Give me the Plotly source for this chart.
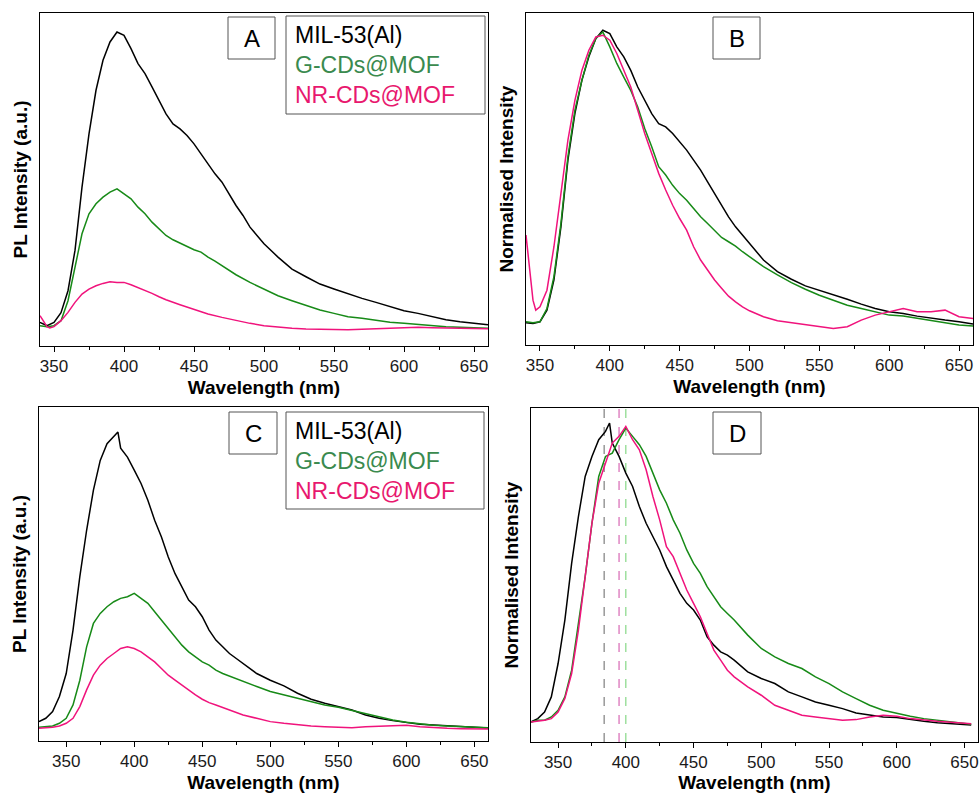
import plotly.graph_objects as go

W, H = 979, 793
FONT = "Liberation Sans, Arial, sans-serif"

# ---------------- data (wavelength nm, intensity a.u.) ----------------
wl_A_black = [340,345,350,355,360,365,370,375,380,385,390,395,400,405,410,415,420,425,430,435,440,445,450,455,460,465,470,475,480,485,490,495,500,510,520,530,540,550,560,570,580,590,600,610,620,630,640,650,660]
A_black = [7.1,6.1,7.1,10,16.6,28.7,47.7,63.7,76.8,85.8,91.3,94.3,93.3,89.3,84.8,81.8,77.8,73.7,69.7,66.7,65.2,63.2,60.7,57.7,54.7,51.7,49.2,45.7,42.2,39.2,35.7,33.2,30.7,26.7,23.1,20.8,18.6,17.1,15.6,14.3,13.1,11.8,10.6,9.8,8.8,7.9,7.3,6.8,6.4]
wl_A_green = [340,345,350,355,360,365,370,375,380,385,390,395,400,405,410,415,420,425,430,435,440,445,450,455,460,465,470,475,480,490,500,510,520,530,540,550,560,570,580,590,600,610,620,630,640,650,660]
A_green = [6.1,5.8,6.1,7.6,13.6,23.6,33.7,39.7,42.7,44.7,46.2,47.2,45.7,44.2,41.7,39.7,37.2,35.2,33.2,31.9,30.9,29.7,28.9,28.2,26.7,25.5,24.1,22.8,21.4,19.1,17.1,15.1,13.6,12.1,10.8,9.8,8.8,8.3,7.6,7.1,6.8,6.4,6.1,5.8,5.6,5.4,5.3]
wl_A_pink = [340,345,347,350,355,360,365,370,375,380,385,390,395,400,405,410,415,420,425,430,440,450,460,470,480,490,500,510,520,530,540,550,560,570,580,590,600,610,620,630,640,650,660]
A_pink = [9.1,5.8,5.4,5.8,7.6,10.1,13.1,15.6,17.1,18.1,18.8,19.3,19.1,19.1,18.4,17.6,16.8,15.8,14.8,13.9,12.4,11.1,9.6,8.6,7.6,6.8,6.1,5.6,5.3,5.1,5.0,4.9,4.9,5.0,5.2,5.4,5.5,5.6,5.5,5.4,5.4,5.3,5.2]

wl_B_black = [340,345,350,355,360,365,370,375,380,385,390,395,400,405,410,415,420,425,430,435,440,445,450,455,460,465,470,475,480,485,490,495,500,510,520,530,540,550,560,570,580,590,600,610,620,630,640,650,660]
B_black = [6.7,6.5,7.0,10.5,19.6,35.6,55.7,69.7,79.7,86.8,92.3,94.8,93.8,89.8,86.8,82.7,77.7,73.7,69.7,66.7,65.7,63.7,61.2,58.7,55.7,52.7,49.1,45.6,42.1,38.6,35.6,33.1,30.6,25.6,22.1,19.8,17.8,16.5,15.0,13.8,12.3,11.0,10.0,9.5,8.7,8.0,7.5,7.0,6.3]
wl_B_green = [340,345,350,355,360,365,370,375,380,385,390,395,400,405,410,415,420,425,430,435,440,445,450,455,460,465,470,475,480,485,490,495,500,510,520,530,540,550,560,570,580,590,600,610,620,630,640,650,660]
B_green = [7.0,6.7,7.0,11.0,20.6,36.6,56.7,70.7,79.7,87.3,92.3,94.3,89.8,84.8,80.7,76.7,71.7,65.2,59.7,53.7,51.2,48.1,45.6,43.6,41.1,38.6,36.6,34.6,32.4,31.1,29.8,28.1,26.6,23.6,21.1,18.8,16.8,15.0,13.5,12.0,11.0,10.0,9.0,8.7,8.0,7.3,6.7,6.0,5.7]
wl_B_pink = [340,343,345,347,350,355,360,365,370,375,380,385,390,395,400,405,410,415,420,425,430,435,440,445,450,455,460,465,470,475,480,485,490,495,500,510,520,530,540,550,560,570,580,590,600,610,620,630,640,650,660]
B_pink = [33.1,21.5,13.5,10.5,11.5,16.5,29.6,45.6,61.7,73.7,82.7,88.8,92.8,93.3,91.8,87.8,82.7,77.7,70.7,63.7,57.7,51.7,46.7,42.1,38.1,34.6,29.6,25.6,22.6,19.6,17.1,14.7,13.0,11.5,10.3,8.5,7.3,6.7,6.3,5.7,5.0,5.5,7.5,9.0,10.0,11.0,10.0,10.0,10.5,8.5,8.0]

wl_C_black = [330,335,340,345,350,355,360,365,370,375,380,385,388,390,395,400,405,410,415,420,425,430,435,440,445,450,455,460,465,470,475,480,490,500,510,520,530,540,550,560,570,580,590,600,610,620,630,640,650,660]
C_black = [5.8,6.8,8.8,13.3,20.2,33.2,49.2,63.1,75.1,84.0,89.0,91.0,92.5,87.7,85.0,81.1,77.1,72.1,66.1,61.1,55.1,50.1,46.2,42.2,40.2,37.2,33.2,30.2,28.2,26.2,24.7,23.2,20.2,18.2,16.5,14.3,12.5,11.3,10.3,9.3,7.8,6.8,6.1,5.5,5.0,4.8,4.5,4.3,4.1,3.9]
wl_C_green = [330,340,345,350,355,360,365,370,375,380,385,390,395,400,405,410,415,420,425,430,435,440,445,450,455,460,465,470,480,490,500,510,520,530,540,550,560,570,580,590,600,610,620,630,640,650,660]
C_green = [4.1,4.5,5.3,6.8,10.8,18.2,28.2,35.2,38.2,40.2,41.7,42.7,43.2,44.2,42.7,41.2,38.7,36.2,33.7,31.2,28.7,26.7,25.2,23.7,22.7,21.2,20.2,19.4,17.7,16.3,14.8,13.8,12.8,11.8,10.8,10.1,9.1,8.1,7.1,6.3,5.6,5.1,4.7,4.5,4.3,4.1,4.0]
wl_C_pink = [330,340,345,350,355,360,365,370,375,380,385,390,395,400,405,410,415,420,425,430,435,440,445,450,455,460,470,480,490,500,510,520,530,540,550,560,570,580,590,600,610,620,630,640,650,660]
C_pink = [3.8,4.1,4.5,5.3,6.8,10.3,15.3,19.7,22.7,24.7,26.2,27.7,28.2,27.7,26.7,25.2,23.7,21.7,19.7,18.2,16.7,15.3,13.8,12.5,11.5,10.8,9.3,7.8,6.8,5.8,5.3,4.8,4.5,4.3,4.1,4.0,4.3,4.5,4.7,4.7,4.3,4.0,3.8,3.7,3.7,3.6]

wl_D_black = [330,335,340,345,350,355,360,365,370,375,380,385,388,390,395,400,405,410,415,420,425,430,435,440,445,450,455,460,465,470,475,480,490,500,510,520,530,540,550,560,570,580,590,600,610,620,630,640,650,655]
D_black = [6.0,7.0,9.0,13.5,23.5,36.5,53.5,67.5,79.5,85.5,90.5,93.0,95.5,89.5,85.5,80.5,76.5,70.5,65.5,61.5,57.5,52.5,48.5,44.5,41.5,39.5,36.5,31.5,29.0,27.0,26.0,24.5,21.0,19.0,17.5,15.0,13.5,12.0,11.0,10.0,8.7,8.0,7.5,7.3,6.7,6.2,5.8,5.5,5.2,5.1]
wl_D_green = [330,335,340,345,350,355,360,365,370,375,380,385,390,395,400,405,410,415,420,425,430,435,440,445,450,455,460,465,470,475,480,490,500,510,520,530,540,550,560,570,580,590,600,610,620,630,640,650,655]
D_green = [6.0,6.5,6.5,7.5,9.5,13.5,21.5,35.5,49.5,65.5,79.5,85.5,86.5,90.5,94.0,91.5,89.0,85.5,80.5,75.5,71.5,66.5,62.5,57.5,53.5,50.5,46.5,43.5,40.5,38.5,36.5,32.0,28.0,25.5,23.5,22.0,19.5,17.5,15.0,13.0,11.0,9.5,8.5,7.7,7.0,6.5,6.0,5.5,5.3]
wl_D_pink = [330,340,345,350,355,360,365,370,375,380,385,390,395,400,405,410,415,420,425,430,435,440,445,450,455,460,465,470,475,480,490,500,510,520,530,540,550,560,570,580,590,600,610,620,630,640,650,655]
D_pink = [6.0,6.5,7.0,9.0,13.0,20.5,33.5,49.5,65.5,77.5,83.5,89.5,91.5,94.5,90.5,87.5,81.5,73.5,66.5,58.5,55.5,50.5,45.5,41.5,37.5,32.5,27.5,24.5,21.5,19.5,16.5,14.0,11.0,9.5,8.0,7.5,7.0,6.5,6.7,7.5,8.0,7.7,7.0,6.5,6.2,5.9,5.7,5.5]

D_peaks = [384, 395, 400]  # dashed markers: MIL-53(Al), NR-CDs@MOF, G-CDs@MOF

series_names = ["MIL-53(Al)", "G-CDs@MOF", "NR-CDs@MOF"]
tick_vals = [350, 400, 450, 500, 550, 600, 650]
panel_labels = ["A", "B", "C", "D"]

# ---------------- styles ----------------
LINE_COL = ["#000000", "#178A17", "#F0137C"]
TEXT_COL = ["#000000", "#3A8A4E", "#E8186E"]
DASH_COL = ["#7F7F7F", "#D868B4", "#86D886"]


def px(x):
    return x / W


def py(y):
    return 1 - y / H


# panel boxes in pixels (left, right, top, bottom)
boxes = [(40, 488, 13, 346), (526, 973, 13, 345), (39, 488, 407, 741), (531, 978, 408, 742)]
xranges = [[340, 660], [340, 660], [330, 660], [330, 660]]
ytitles = ["PL Intensity (a.u.)", "Normalised Intensity", "PL Intensity (a.u.)", "Normalised Intensity"]

fig = go.Figure()
data = [
    [(wl_A_black, A_black), (wl_A_green, A_green), (wl_A_pink, A_pink)],
    [(wl_B_black, B_black), (wl_B_green, B_green), (wl_B_pink, B_pink)],
    [(wl_C_black, C_black), (wl_C_green, C_green), (wl_C_pink, C_pink)],
    [(wl_D_black, D_black), (wl_D_green, D_green), (wl_D_pink, D_pink)],
]

layout = dict(width=W, height=H, margin=dict(l=0, r=0, t=0, b=0),
              paper_bgcolor="white", plot_bgcolor="white", showlegend=False,
              font=dict(family=FONT, color="black"))
shapes = []
annotations = []

for i in range(4):
    sfx = "" if i == 0 else str(i + 1)
    xa, ya = "x" + sfx, "y" + sfx
    for j, (xs, ys) in enumerate(data[i]):
        fig.add_trace(go.Scatter(x=xs, y=ys, mode="lines", name=series_names[j],
                                 line=dict(color=LINE_COL[j], width=1.5),
                                 xaxis=xa, yaxis=ya))
    l, r, t, b = boxes[i]
    layout["xaxis" + sfx] = dict(
        domain=[px(l), px(r)], anchor=ya, range=xranges[i],
        tickvals=tick_vals, ticks="outside", ticklen=5, tickwidth=1, tickcolor="black",
        minor=dict(ticks="outside", ticklen=3, tickwidth=1, tickcolor="black", dtick=25, tick0=325, showgrid=False),
        showline=True, linecolor="black", linewidth=1, mirror=True,
        showgrid=False, zeroline=False,
        tickfont=dict(size=17, family=FONT, color="#1a1a1a"),
        title=dict(text="<b>Wavelength (nm)</b>", font=dict(size=19, family=FONT), standoff=5),
    )
    layout["yaxis" + sfx] = dict(
        domain=[py(b), py(t)], anchor=xa, range=[0, 100],
        showticklabels=False, ticks="",
        showline=True, linecolor="black", linewidth=1, mirror=True,
        showgrid=False, zeroline=False,
        title=dict(text="<b>" + ytitles[i] + "</b>", font=dict(size=19, family=FONT), standoff=6),
    )

# panel label boxes (pixels)
label_boxes = [(228, 275, 17, 59), (713, 760, 17, 59), (229, 277, 412, 454), (713, 761, 412, 454)]
for k, (l, r, t, b) in enumerate(label_boxes):
    shapes.append(dict(type="rect", xref="paper", yref="paper", x0=px(l), x1=px(r), y0=py(b), y1=py(t),
                       line=dict(color="#555555", width=1), fillcolor="rgba(0,0,0,0)", layer="above"))
    annotations.append(dict(xref="paper", yref="paper", x=px((l + r) / 2), y=py((t + b) / 2),
                            text=panel_labels[k], showarrow=False, xanchor="center", yanchor="middle",
                            font=dict(size=24, family=FONT, color="black")))

# legend boxes for A and C
legend_boxes = [(286, 485, 16, 114), (286, 484, 412, 509)]
leg_text = "<br>".join('<span style="color:%s">%s</span>' % (TEXT_COL[j], series_names[j]) for j in range(3))
for (l, r, t, b) in legend_boxes:
    shapes.append(dict(type="rect", xref="paper", yref="paper", x0=px(l), x1=px(r), y0=py(b), y1=py(t),
                       line=dict(color="#555555", width=1), fillcolor="rgba(0,0,0,0)", layer="above"))
    annotations.append(dict(xref="paper", yref="paper", x=px(l + 7), y=py((t + b) / 2),
                            text=leg_text, showarrow=False, xanchor="left", yanchor="middle", align="left",
                            font=dict(size=23, family=FONT)))

# dashed peak markers in D
for k, xv in enumerate(D_peaks):
    shapes.append(dict(type="line", xref="x4", yref="y4 domain", x0=xv, x1=xv, y0=0, y1=1,
                       line=dict(color=DASH_COL[k], width=1.2, dash="dash"), layer="below"))

layout["shapes"] = shapes
layout["annotations"] = annotations
fig.update_layout(**layout)
fig.write_html("out.html", config={"displayModeBar": False},
               post_script="document.body.style.margin='0';document.body.style.padding='0';document.body.style.overflow='hidden';")
